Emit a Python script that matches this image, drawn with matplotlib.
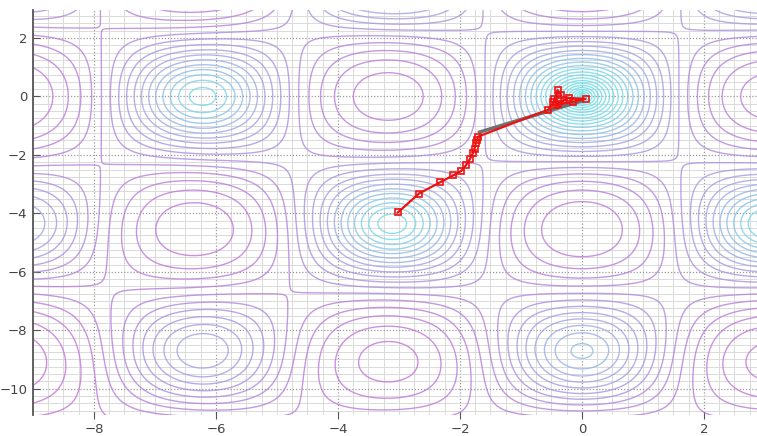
import numpy as np
import matplotlib.pyplot as plt
from matplotlib.colors import LinearSegmentedColormap

# search path (red, square markers) and the straight step (gray)
path_x = [-3.02, -2.67, -2.33, -2.11, -1.98, -1.90, -1.84, -1.79, -1.76, -1.74,
          -1.72, -1.70, -0.55, -0.47, -0.40, -0.34, -0.46, -0.40, -0.22, 0.06,
          -0.15, -0.42, -0.30]
path_y = [-3.97, -3.32, -2.94, -2.70, -2.55, -2.35, -2.15, -1.95, -1.78, -1.60,
          -1.48, -1.37, -0.45, -0.20, 0.22, 0.04, -0.10, -0.26, -0.05, -0.08,
          -0.18, -0.30, -0.12]
step_x = [-1.68, -0.55, 0.0]
step_y = [-1.22, -0.50, -0.15]

xlim = (-9, 2.87)
ylim = (-10.9, 2.96)

# Griewank-type surface
x = np.linspace(-9.5, 3.5, 500)
y = np.linspace(-11.5, 3.5, 500)
X, Y = np.meshgrid(x, y)
Z = 1 + (X**2 + Y**2) / 200 - np.cos(X) * np.cos(Y / np.sqrt(2))

n_lev = 32
zmax = Z.max()
levels = zmax * np.linspace(0.01, 1, n_lev) ** 3

cmap = LinearSegmentedColormap.from_list(
    'cp', [(0, '#4ee6e6'), (0.42, '#74d8ea'), (0.6, '#a2a4e4'),
           (0.78, '#b282da'), (1, '#cc6cd8')])
colors = [cmap(t) for t in np.linspace(0, 1, n_lev)]

fig = plt.figure(figsize=(7.57, 4.36), dpi=100)
ax = fig.add_axes([33 / 757, 1 - 415 / 436, 1 - 33 / 757, 405 / 436])

ax.set_xticks(np.arange(-8, 3, 2))
ax.set_yticks(np.arange(-10, 3, 2))
ax.set_xticks(np.arange(-9, 3, 0.25), minor=True)
ax.set_yticks(np.arange(-11, 3, 0.25), minor=True)
ax.grid(True, which='minor', color='#dadada', lw=0.7, ls='-')
ax.grid(True, which='major', color='#9a9a9a', lw=0.9, ls=(0, (1, 1.5)))
ax.set_axisbelow(True)

ax.contour(X, Y, Z, levels=levels, colors=colors, linewidths=1.0, alpha=0.8)

ax.plot(step_x, step_y, color='#707070', lw=2.5, zorder=5)
ax.plot(path_x, path_y, color='#ee1111', lw=1.6, marker='s', ms=5,
        mfc='none', mec='#ee1111', mew=1.2, zorder=6)

ax.set_xlim(*xlim)
ax.set_ylim(*ylim)

for s in ['top', 'right', 'bottom']:
    ax.spines[s].set_visible(False)
ax.spines['left'].set_color('#555555')
ax.spines['left'].set_linewidth(1.3)
ax.tick_params(which='minor', length=0)
ax.tick_params(axis='y', direction='in', length=5, color='#555555',
               labelcolor='#444444', labelsize=9.5, pad=4)
ax.tick_params(axis='x', direction='inout', length=6, color='#555555',
               labelcolor='#444444', labelsize=9.5, pad=3)

fig.savefig('out.png', dpi=100)
